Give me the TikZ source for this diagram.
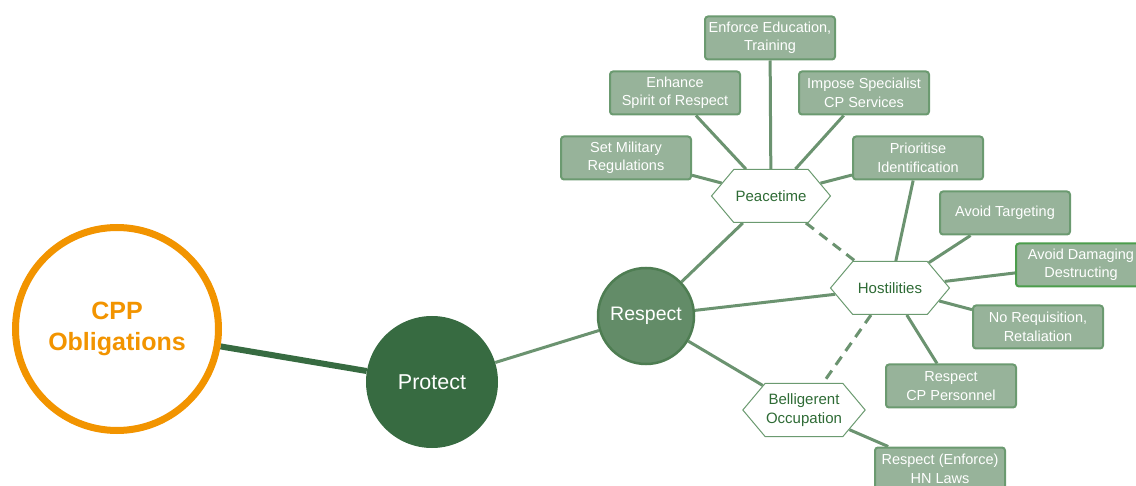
\documentclass[tikz,border=0pt]{standalone}
\usepackage{fontspec}
\setmainfont{Liberation Sans}
\usepackage{tikz}
\usetikzlibrary{shapes.symbols,backgrounds}

\definecolor{cppOrange}{HTML}{F29400}
\definecolor{darkGreen}{HTML}{376B41}
\definecolor{midGreen}{HTML}{638C68}
\definecolor{midEdge}{HTML}{4E7D52}
\definecolor{boxFill}{HTML}{97B39A}
\definecolor{boxEdge}{HTML}{6B9A70}
\definecolor{linkGreen}{HTML}{6B9370}
\definecolor{hexText}{HTML}{2E6B35}

\tikzset{
  leafbox/.style={draw=boxEdge, fill=boxFill, line width=2pt, rounded corners=3pt,
    minimum width=130pt, minimum height=43pt, inner sep=1pt, align=center,
    text=white, font=\fontsize{14.5}{18.5}\selectfont},
  phasehex/.style={shape=signal, signal to=west and east, signal pointer angle=100,
    draw=boxEdge, fill=white, line width=1pt, minimum width=119pt, minimum height=53pt,
    inner sep=1pt, align=center, text=hexText, font=\fontsize{15}{19}\selectfont},
  link/.style={draw=linkGreen, line width=3pt},
  phaselink/.style={link, dash pattern=on 10pt off 7pt}
}

\begin{document}
\begin{tikzpicture}[x=1pt, y=-1pt]
  \useasboundingbox (0,0) rectangle (1136,486);
  \clip (0,0) rectangle (1136,486);

  % main circles
  \node[circle, draw=cppOrange, line width=7pt, fill=white, minimum size=203pt,
    align=center, text=cppOrange, font=\bfseries\fontsize{25}{31}\selectfont] (cpp) at (117,329) {CPP\\Obligations};
  \node[circle, fill=darkGreen, minimum size=132pt, text=white,
    font=\fontsize{21.5}{24}\selectfont] (protect) at (432,382) {Protect};
  \node[circle, fill=midGreen, draw=midEdge, line width=2.5pt, minimum size=96pt, text=white,
    font=\fontsize{19.5}{22}\selectfont] (respect) at (646,316) {Respect};

  % phases
  \node[phasehex] (peace) at (771,196) {Peacetime};
  \node[phasehex] (host) at (890,288) {Hostilities};
  \node[phasehex] (occup) at (804,410) {Belligerent\\Occupation};

  % peacetime measures
  \node[leafbox] (educ) at (770,38) {Enforce Education,\\Training};
  \node[leafbox] (spirit) at (675,93) {Enhance\\Spirit of Respect};
  \node[leafbox] (special) at (864,93) {Impose Specialist\\CP Services};
  \node[leafbox] (milreg) at (626,158) {Set Military\\Regulations};
  \node[leafbox] (ident) at (918,158) {Prioritise\\Identification};

  % hostilities measures
  \node[leafbox] (target) at (1005,213) {Avoid Targeting};
  \node[leafbox, draw=green!45!black!70] (damage) at (1081,265) {Avoid Damaging\\Destructing};
  \node[leafbox] (requis) at (1038,327) {No Requisition,\\Retaliation};
  \node[leafbox] (staff) at (951,386) {Respect\\CP Personnel};

  % occupation measures
  \node[leafbox] (hnlaw) at (940,469) {Respect (Enforce)\\HN Laws};

  \begin{pgfonlayer}{background}
    \draw[darkGreen, line width=6pt] (cpp) -- (protect);
    \draw[link] (protect) -- (respect);
    \draw[link] (respect) -- (peace);
    \draw[link] (respect) -- (host);
    \draw[link] (respect) -- (occup);
    \foreach \leaf in {educ, spirit, special, milreg, ident}
      \draw[link] (peace) -- (\leaf);
    \foreach \leaf in {ident, target, damage, requis, staff}
      \draw[link] (host) -- (\leaf);
    \draw[link] (occup) -- (hnlaw);
    \draw[phaselink] (peace) -- (host);
    \draw[phaselink] (host) -- (occup);
  \end{pgfonlayer}
\end{tikzpicture}
\end{document}
